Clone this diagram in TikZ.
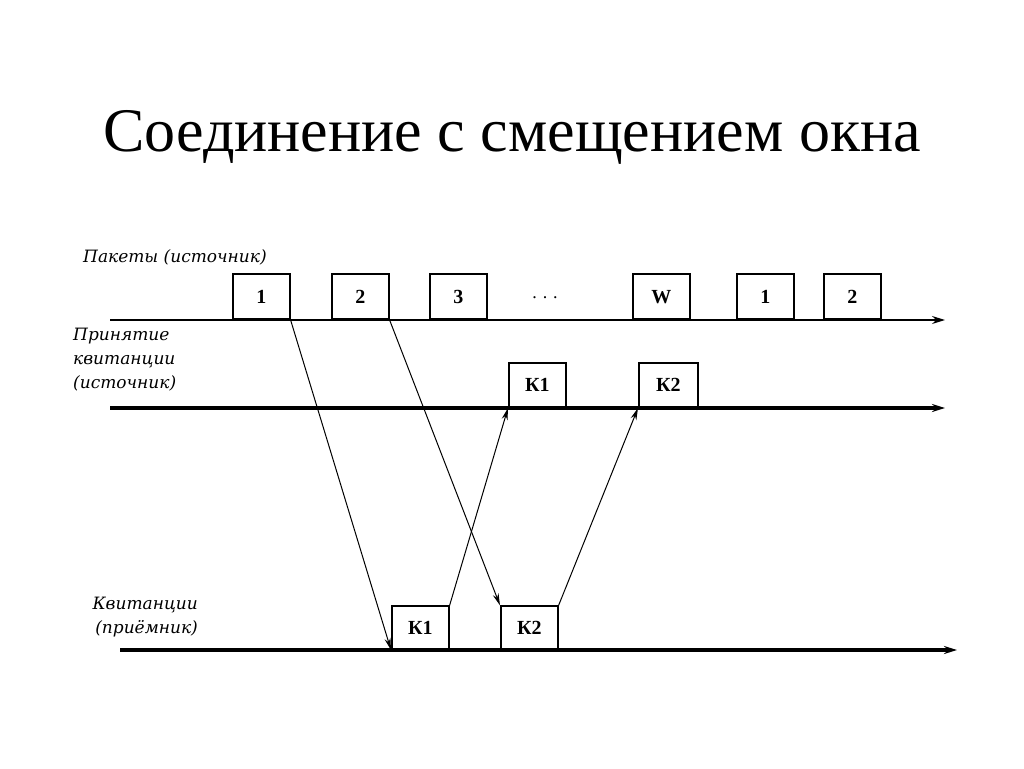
\documentclass[tikz,border=0pt]{standalone}
\usepackage{fontspec}
\setmainfont{Liberation Serif}
\newfontfamily\labelfont{DejaVu Serif}
\usetikzlibrary{arrows.meta}
\begin{document}
\begin{tikzpicture}[x=1pt,y=-1pt,
  pkt/.style={draw,line width=1.6pt,minimum width=57pt,minimum height=45pt,anchor=south west,inner sep=0pt,
              font=\fontsize{20}{20}\selectfont\bfseries},
  axis/.style={-{Stealth[length=13pt,width=8pt]},line width=1.5pt},
  thickaxis/.style={axis,line width=3.5pt},
  arr/.style={-{Stealth[length=12pt,width=6pt]},line width=1pt},
  lbl/.style={font=\labelfont\itshape\fontsize{17}{24}\selectfont,inner sep=0pt}]
\useasboundingbox (0,0) rectangle (1024,768);
\node[font=\fontsize{62}{62}\selectfont] (title) at (512,137) {Соединение с смещением окна};
\node[lbl,anchor=west] (lpk) at (83,257) {Пакеты (источник)};
\node[lbl,align=left,anchor=north west] (lack) at (73,328) {Принятие\\квитанции\\(источник)};
\node[lbl,align=right,anchor=north east] (lrcv) at (198,597) {Квитанции\\(приёмник)};
\coordinate (a1) at (110,320); \coordinate (a1e) at (945,320);
\coordinate (a2) at (110,408); \coordinate (a2e) at (945,408);
\coordinate (a3) at (120,650); \coordinate (a3e) at (957,650);
\draw[axis] (a1) -- (a1e);
\draw[thickaxis] (a2) -- (a2e);
\draw[thickaxis] (a3) -- (a3e);
\node[pkt] (p1) at (232,320) {1};
\node[pkt] (p2) at (331,320) {2};
\node[pkt] (p3) at (429,320) {3};
\node[font=\fontsize{18}{18}\selectfont] (dots) at (545,298) {. . .};
\node[pkt] (pw) at (632,320) {W};
\node[pkt] (pa) at (736,320) {1};
\node[pkt] (pb) at (823,320) {2};
\node[pkt,minimum height=44pt] (s1) at (508,408) {К1};
\node[pkt,minimum height=44pt,minimum width=59pt] (s2) at (638,408) {К2};
\node[pkt,minimum height=43pt] (r1) at (391,650) {К1};
\node[pkt,minimum height=43pt] (r2) at (500,650) {К2};
\draw[arr] (p1.south east) -- (r1.south west);
\draw[arr] (p2.south east) -- (r2.north west);
\draw[arr] (r1.north east) -- (s1.south west);
\draw[arr] (r2.north east) -- (s2.south west);
\end{tikzpicture}
\end{document}
